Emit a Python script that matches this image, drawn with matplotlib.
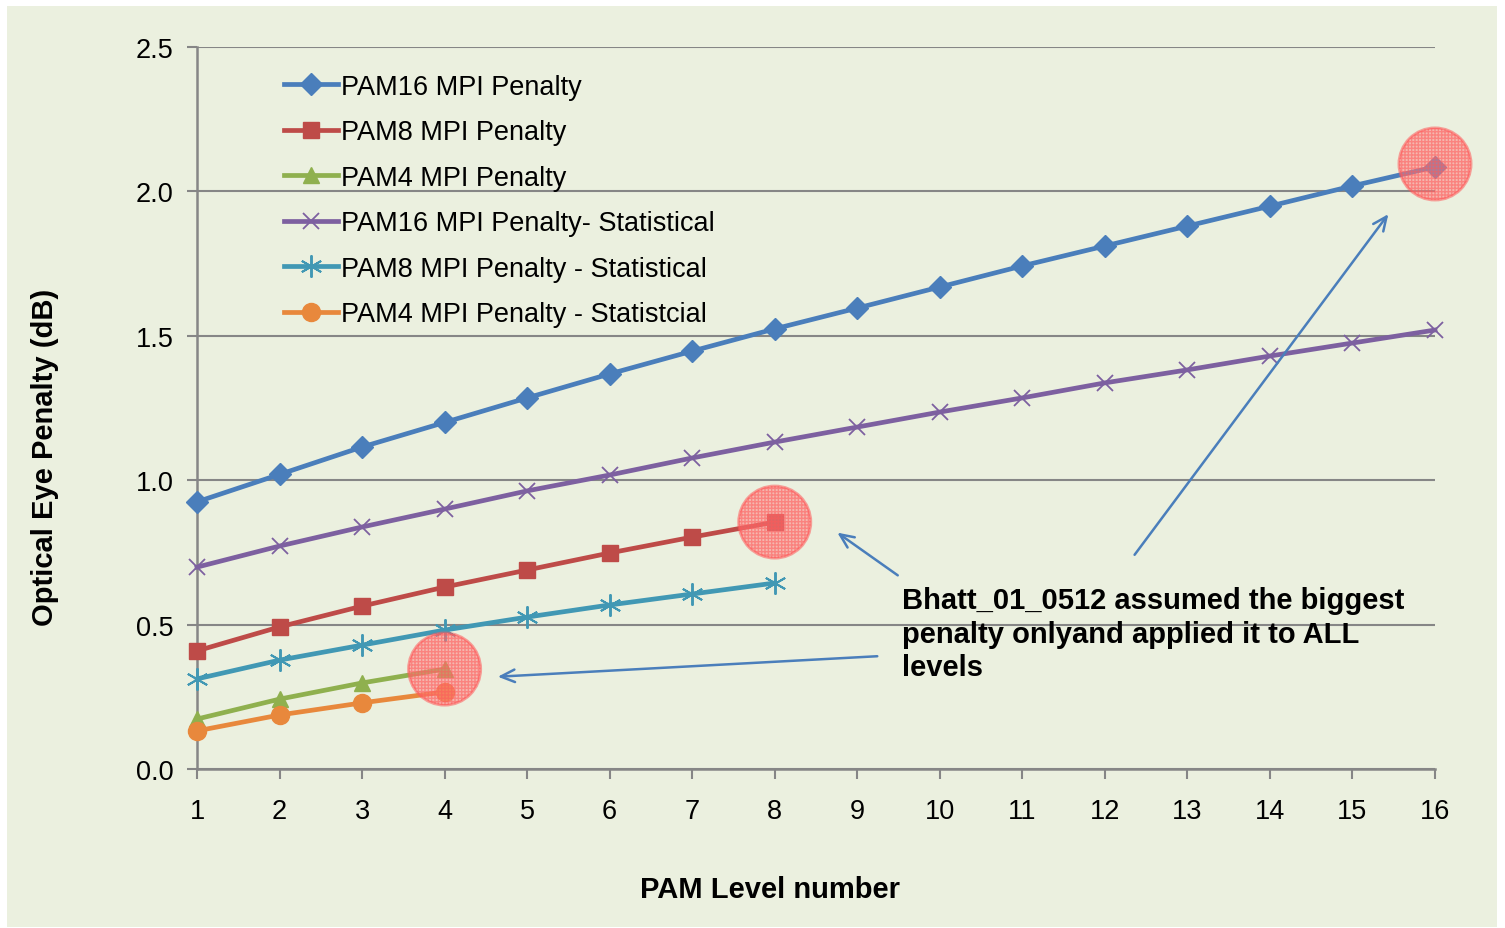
import matplotlib
matplotlib.use("Agg")
import matplotlib.pyplot as plt
from matplotlib.patches import Rectangle

plt.rcParams['font.family'] = ['Liberation Sans', 'DejaVu Sans']

levels16 = list(range(1, 17))
levels8 = list(range(1, 9))
levels4 = list(range(1, 5))

pam16 = [0.925, 1.02, 1.115, 1.20, 1.285, 1.368, 1.447, 1.524, 1.596, 1.669, 1.742, 1.811, 1.880, 1.949, 2.019, 2.085]
pam8 = [0.409, 0.492, 0.564, 0.630, 0.689, 0.748, 0.803, 0.855]
pam4 = [0.173, 0.242, 0.298, 0.346]
pam16_stat = [0.699, 0.772, 0.838, 0.900, 0.963, 1.018, 1.077, 1.132, 1.184, 1.236, 1.285, 1.337, 1.382, 1.430, 1.475, 1.520]
pam8_stat = [0.312, 0.377, 0.429, 0.481, 0.526, 0.568, 0.606, 0.644]
pam4_stat = [0.132, 0.187, 0.229, 0.267]

labels = ["PAM16 MPI Penalty", "PAM8 MPI Penalty", "PAM4 MPI Penalty",
          "PAM16 MPI Penalty- Statistical", "PAM8 MPI Penalty - Statistical",
          "PAM4 MPI Penalty - Statistcial"]
colors = ["#4a7ebb", "#be4b48", "#8fb04e", "#7d60a0", "#4198b4", "#e8883c"]
markers = ["D", "s", "^", "x", "*", "o"]

highlight_x = [16, 8, 4]
highlight_y = [2.095, 0.855, 0.346]

W, H = 1505, 929
fig = plt.figure(figsize=(W / 100, H / 100), dpi=100)
fig.patch.set_facecolor("white")
fig.add_artist(Rectangle((7 / W, 1 / H), (1497 - 7) / W, (922 - 1) / H,
                         transform=fig.transFigure, facecolor="#ebf0df",
                         edgecolor="none", zorder=-10))

ax = fig.add_axes([197 / W, 1 - 770 / H, (1435 - 197) / W, (770 - 48) / H])
ax.set_facecolor("none")

series = [(levels16, pam16), (levels8, pam8), (levels4, pam4),
          (levels16, pam16_stat), (levels8, pam8_stat), (levels4, pam4_stat)]
for (xs, ys), lab, c, m in zip(series, labels, colors, markers):
    kw = dict(markersize=11)
    if m == "x":
        kw = dict(markersize=12, markeredgewidth=1.3)
    elif m == "*":
        kw = dict(markersize=16, markeredgewidth=1.4, markerfacecolor="none")
        m = (6, 2, 0)
    elif m == "o":
        kw = dict(markersize=13)
    elif m == "s":
        kw = dict(markersize=12)
    elif m == "^":
        kw = dict(markersize=12)
    ax.plot(xs, ys, color=c, lw=3.4, marker=m, markeredgecolor=c, label=lab,
            zorder=3, clip_on=False, **kw)

# highlight circles
ax.scatter(highlight_x, highlight_y, s=2700, facecolor=(1.0, 0.5, 0.5, 0.5),
           edgecolor=(1.0, 0.35, 0.35, 0.55), linewidth=2, hatch="+++++",
           zorder=4, clip_on=False)

# arrows
arrow_kw = dict(arrowstyle="->,head_length=1.0,head_width=0.45", color="#4a7ebb", lw=1.8)
ax.annotate("", xy=(15.455, 1.929), xytext=(12.34, 0.734), arrowprops=arrow_kw, zorder=5)
ax.annotate("", xy=(8.731, 0.824), xytext=(9.518, 0.665), arrowprops=arrow_kw, zorder=5)
ax.annotate("", xy=(4.611, 0.319), xytext=(9.276, 0.391), arrowprops=arrow_kw, zorder=5)

ax.text(9.54, 0.633, "Bhatt_01_0512 assumed the biggest\npenalty onlyand applied it to ALL\nlevels",
        fontsize=21, fontweight="bold", va="top", ha="left", linespacing=1.25, zorder=6)

ax.set_xlim(1, 16)
ax.set_ylim(0, 2.5)
ax.set_xticks(levels16)
ax.set_yticks([0.0, 0.5, 1.0, 1.5, 2.0, 2.5])
ax.set_yticklabels(["0.0", "0.5", "1.0", "1.5", "2.0", "2.5"])
ax.tick_params(axis="both", labelsize=19.5, colors="#868686", labelcolor="black",
               length=7, width=1.5, direction="out")
ax.tick_params(axis="x", pad=14)
ax.tick_params(axis="y", pad=10)
ax.grid(axis="y", color="#868686", lw=1.5)
ax.set_axisbelow(True)
for s in ["top", "right"]:
    ax.spines[s].set_visible(False)
for s in ["left", "bottom"]:
    ax.spines[s].set_color("#868686")
    ax.spines[s].set_linewidth(1.8)

ax.set_xlabel("PAM Level number", fontsize=21, fontweight="bold")
ax.xaxis.set_label_coords((770 - 197) / (1435 - 197), -(890 - 770) / (770 - 48), transform=ax.transAxes)
ax.xaxis.label.set_va("center")
ax.set_ylabel("Optical Eye Penalty (dB)", fontsize=21, fontweight="bold")
ax.yaxis.set_label_coords(-(197 - 45) / (1435 - 197), (770 - 457) / (770 - 48), transform=ax.transAxes)
ax.yaxis.label.set_va("center")

leg = ax.legend(loc="upper left", bbox_to_anchor=(0.0615, 0.978), frameon=False,
                fontsize=19.5, handlelength=2.0, handletextpad=0.1,
                labelspacing=0.72, borderaxespad=0)

fig.savefig("out.png", dpi=100)
